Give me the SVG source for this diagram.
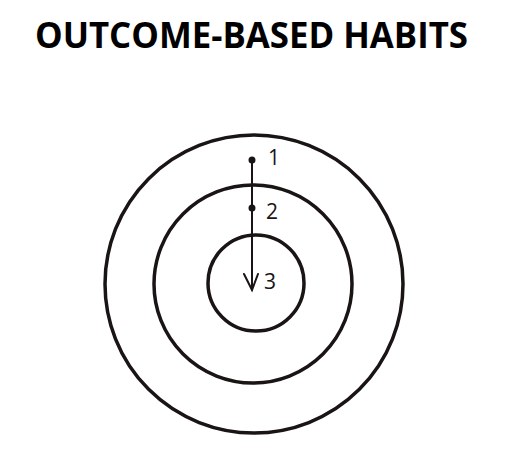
<svg xmlns="http://www.w3.org/2000/svg" width="522" height="458" viewBox="0 0 522 458">
<style>
.ring{fill:none;stroke:#1a1414;stroke-width:3.5}
.lbl{font-family:"Open Sans","DejaVu Sans",sans-serif;font-size:21px;fill:#1a1414}
.title{font-family:"Open Sans","Liberation Sans",sans-serif;font-weight:bold;font-size:35px;fill:#000}
</style>
<rect width="522" height="458" fill="#fff"/>
<text class="title" x="35" y="48" textLength="433" lengthAdjust="spacingAndGlyphs">OUTCOME-BASED HABITS</text>
<g id="outer"><circle class="ring" cx="254" cy="284" r="149"/></g>
<g id="middle"><circle class="ring" cx="253" cy="284" r="99"/></g>
<g id="inner"><circle class="ring" cx="256" cy="283" r="48"/></g>
<g id="connectors" stroke="#1a1414" fill="none" stroke-linecap="round">
<line x1="252" y1="160" x2="252" y2="290" stroke-width="2"/>
<polyline points="244,274 252,290 258,274" stroke-width="2"/>
</g>
<g id="p1"><circle cx="252" cy="160" r="3.5" fill="#1a1414"/><text class="lbl" x="268" y="165">1</text></g>
<g id="p2"><circle cx="252" cy="208" r="3.5" fill="#1a1414"/><text class="lbl" x="266" y="219">2</text></g>
<g id="p3"><text class="lbl" x="264" y="289">3</text></g>
</svg>
